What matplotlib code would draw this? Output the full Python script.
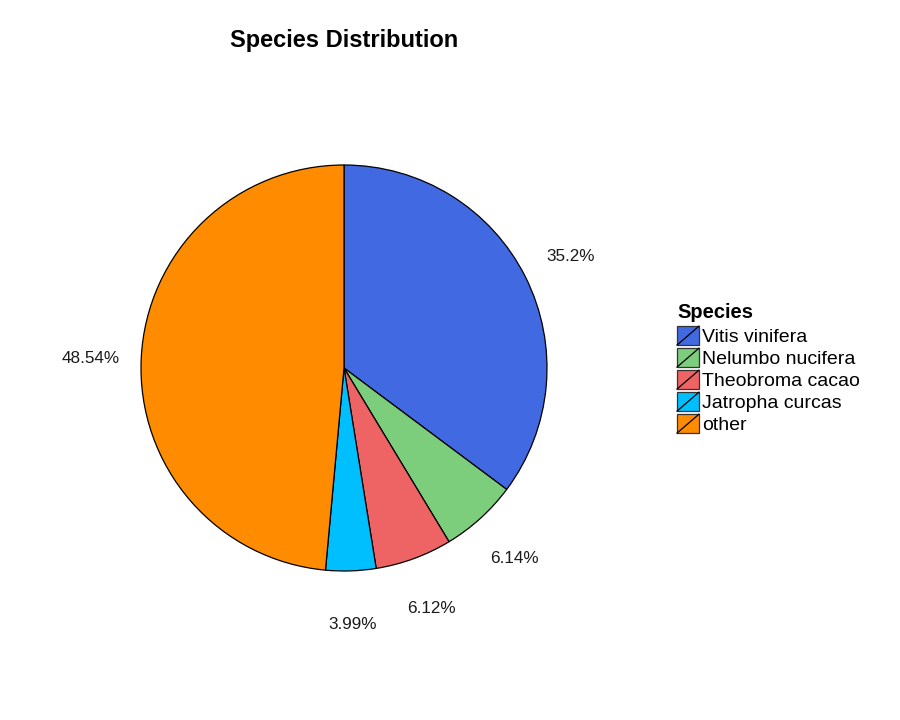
import matplotlib
matplotlib.use('Agg')
import matplotlib.pyplot as plt
from matplotlib.patches import Rectangle, Wedge
from matplotlib.lines import Line2D
from matplotlib.legend_handler import HandlerBase

plt.rcParams['font.family'] = ['Liberation Sans', 'DejaVu Sans']

species = ['Vitis vinifera', 'Nelumbo nucifera', 'Theobroma cacao',
           'Jatropha curcas', 'other']
share = [35.2, 6.14, 6.12, 3.99, 48.54]
share_labels = ['35.2%', '6.14%', '6.12%', '3.99%', '48.54%']
colours = ['#4169E1', '#7CCD7C', '#EE6363', '#00BFFF', '#FF8C00']


class KeyHandler(HandlerBase):
    """ filled square key with a diagonal stroke, like the ggplot key """
    def create_artists(self, legend, orig, xd, yd, width, height, fontsize,
                       trans):
        r = Rectangle((-xd, -yd), width, height, facecolor=orig.get_facecolor(),
                      edgecolor='#333333', lw=0.9, transform=trans)
        ln = Line2D([-xd, -xd + width], [-yd, -yd + height], color='black',
                    lw=0.9, transform=trans)
        return [r, ln]


W, H = 900, 720
fig = plt.figure(figsize=(9, 7.2), dpi=100)

cx, cy, rad = 344, 368, 203
half = 300
ax = fig.add_axes([(cx - half) / W, (H - cy - half) / H, 2 * half / W,
                   2 * half / H])
wedges, texts = ax.pie(share, labels=share_labels, colors=colours,
                       startangle=90, counterclock=False, radius=1,
                       labeldistance=1.25,
                       wedgeprops=dict(edgecolor='black', linewidth=0.9),
                       textprops=dict(fontsize=12.3, color='#1a1a1a'))
for t in texts:
    t.set_ha('center')
    t.set_va('center')
    x, y = t.get_position()
    t.set_position((x, y - 0.012))
lim = half / rad
ax.set_xlim(-lim, lim)
ax.set_ylim(-lim, lim)
ax.set_aspect('equal')
ax.axis('off')

fig.text(cx / W, 1 - 41 / H, 'Species Distribution', ha='center',
         va='center', fontsize=17, fontweight='bold')

leg = fig.legend(wedges, species, loc='upper left',
                 bbox_to_anchor=(677 / W, 1 - 303 / H), frameon=False,
                 title='Species', fontsize=14, handlelength=1.13,
                 handleheight=1.12, labelspacing=0.1, handletextpad=0.15,
                 borderpad=0, borderaxespad=0,
                 handler_map={Wedge: KeyHandler()},
                 alignment='left')
leg.get_title().set_fontweight('bold')
leg.get_title().set_fontsize(14.5)
leg._legend_box.sep = 3

fig.savefig('out.png', dpi=100)
